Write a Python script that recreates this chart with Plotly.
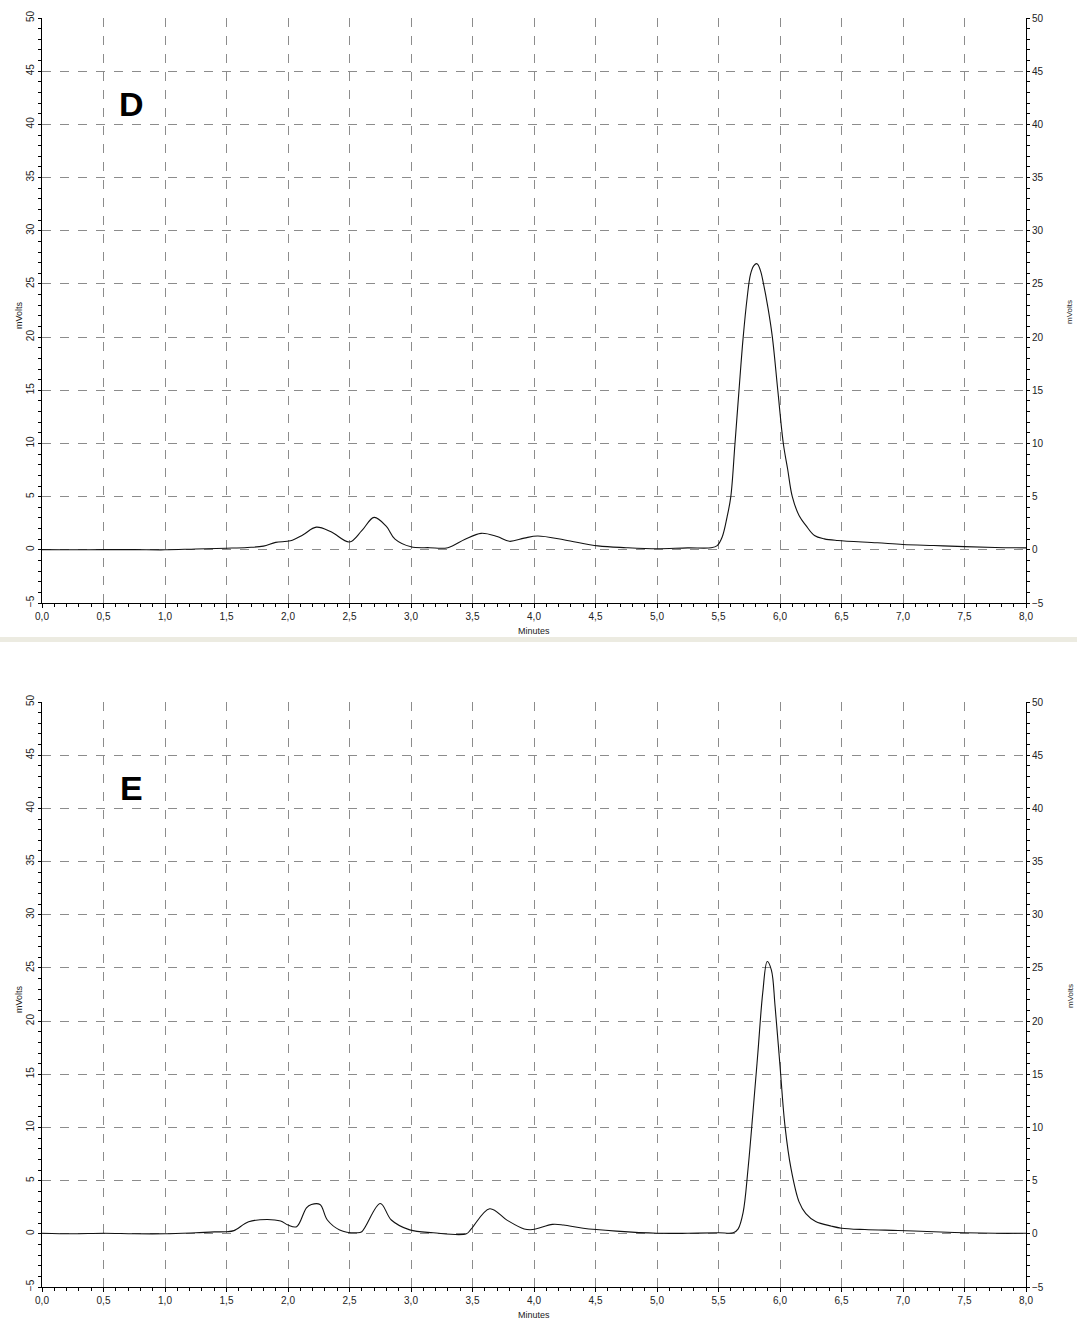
import plotly.graph_objects as go

# ---------------- data ----------------
d_time = [0.0, 0.25, 0.5, 0.75, 1.0, 1.25, 1.5, 1.67, 1.8, 1.9, 2.02, 2.12, 2.23, 2.35, 2.5,
          2.6, 2.7, 2.8, 2.87, 3.0, 3.15, 3.3, 3.44, 3.57, 3.7, 3.8, 3.92, 4.03, 4.25, 4.52,
          4.75, 5.0, 5.25, 5.44, 5.49, 5.53, 5.57, 5.6, 5.634, 5.666, 5.70, 5.733, 5.76,
          5.786, 5.813, 5.84, 5.866, 5.903, 5.938, 5.982, 6.027, 6.062, 6.1, 6.156, 6.21,
          6.28, 6.36, 6.47, 6.79, 7.0, 7.25, 7.5, 7.75, 8.0]
d_mv = [0.02, 0.0, 0.02, 0.02, 0.0, 0.08, 0.15, 0.22, 0.35, 0.7, 0.85, 1.4, 2.13, 1.7, 0.74,
        1.8, 3.05, 2.2, 1.0, 0.28, 0.2, 0.2, 1.0, 1.55, 1.25, 0.8, 1.1, 1.3, 0.93, 0.37,
        0.2, 0.1, 0.18, 0.19, 0.4, 1.2, 3.1, 5.0, 10.0, 14.9, 19.9, 23.7, 25.9,
        26.7, 26.9, 26.3, 25.0, 22.7, 20.0, 15.0, 10.0, 7.6, 5.0, 3.2, 2.3,
        1.34, 1.03, 0.875, 0.66, 0.5, 0.4, 0.3, 0.22, 0.18]

e_time = [0.0, 0.25, 0.5, 0.75, 1.0, 1.25, 1.4, 1.5, 1.56, 1.68, 1.83, 1.94, 2.0, 2.07, 2.15,
          2.19, 2.26, 2.32, 2.42, 2.56, 2.6, 2.75, 2.84, 2.99, 3.18, 3.45, 3.49, 3.64, 3.78,
          3.92, 3.99, 4.15, 4.24, 4.4, 4.67, 5.0, 5.25, 5.5, 5.62, 5.66, 5.70, 5.74, 5.78,
          5.82, 5.86, 5.896, 5.93, 5.96, 6.0, 6.04, 6.09, 6.155, 6.21, 6.29, 6.42, 6.5, 6.69,
          6.96, 7.25, 7.5, 7.75, 8.0]
e_mv = [0.05, 0.0, 0.05, 0.0, 0.0, 0.1, 0.18, 0.2, 0.3, 1.13, 1.35, 1.2, 0.83, 0.67, 2.45,
        2.76, 2.76, 1.3, 0.37, 0.1, 0.2, 2.85, 1.3, 0.37, 0.1, 0.0, 0.46, 2.36, 1.29,
        0.46, 0.4, 0.89, 0.83, 0.52, 0.25, 0.05, 0.05, 0.1, 0.1, 0.47, 2.0, 6.1, 11.4,
        17.0, 22.7, 25.6, 24.8, 21.4, 15.8, 10.2, 6.1, 3.0, 1.9, 1.16, 0.72, 0.53, 0.4,
        0.31, 0.2, 0.1, 0.05, 0.05]

panel_labels = ["D", "E"]
x_title = "Minutes"
y_title = "mVolts"
x_range = [0, 8]
y_range = [-5, 50]

# ---------------- layout helpers ----------------
W, H = 1077, 1319
def px_x(p):
    return p / W
def px_y(p):
    return 1 - p / H

FONT = "Liberation Sans, Arial, sans-serif"
TICKFONT = dict(family="Liberation Sans Narrow, Liberation Sans, Arial, sans-serif",
                size=10, color="#222")
LINE = dict(color="#111", width=1.1, shape="spline", smoothing=1.0)

fig = go.Figure()
fig.add_trace(go.Scatter(x=d_time, y=d_mv, mode="lines", xaxis="x", yaxis="y",
                         line=LINE, showlegend=False, hoverinfo="x+y"))
fig.add_trace(go.Scatter(x=e_time, y=e_mv, mode="lines", xaxis="x2", yaxis="y3",
                         line=LINE, showlegend=False, hoverinfo="x+y"))
# same series bound to the right-hand axes so they get drawn (kept transparent)
fig.add_trace(go.Scatter(x=d_time, y=d_mv, mode="lines", xaxis="x", yaxis="y2",
                         line=LINE, opacity=0, showlegend=False, hoverinfo="skip"))
fig.add_trace(go.Scatter(x=e_time, y=e_mv, mode="lines", xaxis="x2", yaxis="y4",
                         line=LINE, opacity=0, showlegend=False, hoverinfo="skip"))

def xaxis(anchor):
    return dict(domain=[px_x(42), px_x(1026)], anchor=anchor, range=x_range,
                dtick=0.5, tick0=0, tickformat=".1f", showline=True, linecolor="#000",
                linewidth=1, ticks="outside", ticklen=4, tickcolor="#000",
                showgrid=True, gridcolor="#8c8c8c", griddash="dash", gridwidth=1,
                zeroline=False, tickfont=TICKFONT, fixedrange=True, automargin=False,
                minor=dict(dtick=0.1, tick0=0, ticks="outside", ticklen=3,
                           tickcolor="#000", showgrid=False))

def yaxis_left(anchor, dom):
    return dict(domain=dom, anchor=anchor, range=y_range, dtick=5, tick0=0,
                showline=True, linecolor="#000", linewidth=1, ticks="outside",
                ticklen=3, tickcolor="#000", showgrid=True, gridcolor="#8c8c8c",
                griddash="dash", gridwidth=1, zeroline=False, tickangle=-90,
                tickfont=TICKFONT, fixedrange=True, automargin=False,
                minor=dict(dtick=1, tick0=0, ticks="outside", ticklen=3,
                           tickcolor="#000", showgrid=False))

def yaxis_right(anchor, over):
    return dict(overlaying=over, side="right", anchor=anchor, range=y_range, dtick=5,
                tick0=0, showline=True, linecolor="#000", linewidth=1, ticks="outside",
                ticklen=3, tickcolor="#000", showgrid=False, zeroline=False,
                tickfont=TICKFONT, fixedrange=True, automargin=False,
                minor=dict(dtick=1, tick0=0, ticks="outside", ticklen=3,
                           tickcolor="#000", showgrid=False))

top_dom = [px_y(603), px_y(18)]
bot_dom = [px_y(1287), px_y(702)]

def note(x, y, text, size, angle=0):
    return dict(x=px_x(x), y=px_y(y), xref="paper", yref="paper", text=text,
                textangle=angle, showarrow=False, xanchor="center", yanchor="middle",
                font=dict(family=FONT, size=size, color="#000" if size > 20 else "#222"))

annotations = []
for lab, dy in zip(panel_labels, [0, 684]):
    annotations.append(note(131, 104 + dy, f"<b>{lab}</b>", 34))
    annotations.append(note(19, 315 + dy, y_title, 9, -90))
    annotations.append(note(1070, 312 + dy, y_title, 8, -90))
    annotations.append(note(534, 631 + dy, x_title, 9))

fig.update_layout(
    width=W, height=H, autosize=False,
    margin=dict(l=0, r=0, t=0, b=0, pad=0),
    paper_bgcolor="#ffffff", plot_bgcolor="#ffffff",
    separators=",.",
    showlegend=False,
    xaxis=xaxis("y"),
    yaxis=yaxis_left("x", top_dom),
    yaxis2=yaxis_right("x", "y"),
    xaxis2=xaxis("y3"),
    yaxis3=yaxis_left("x2", bot_dom),
    yaxis4=yaxis_right("x2", "y3"),
    annotations=annotations,
    shapes=[dict(type="rect", xref="paper", yref="paper", x0=0, x1=1,
                 y0=px_y(642), y1=px_y(637), fillcolor="#ECEBE1", line=dict(width=0),
                 layer="below")],
)

fig.write_html("out.html",
               config={"displayModeBar": False},
               post_script="document.body.style.margin='0px';"
                           "document.body.style.overflow='hidden';")
